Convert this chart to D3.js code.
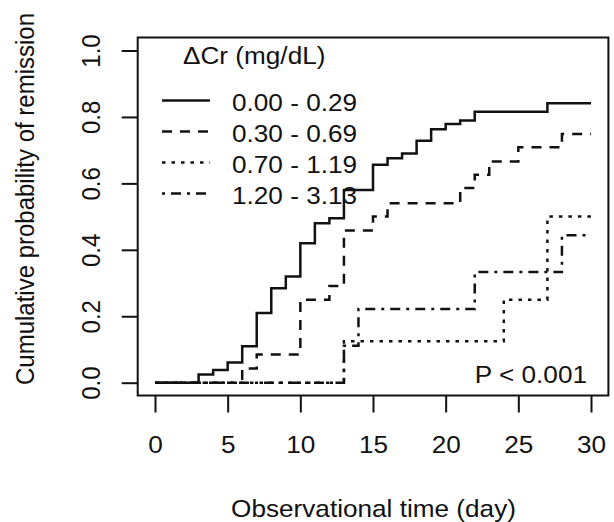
<!DOCTYPE html>
<html>
<head>
<meta charset="utf-8">
<script src="https://cdn.jsdelivr.net/npm/d3@7"></script>
<style>
  body { margin: 0; background: #fff; }
  text { font-family: "Liberation Sans", Arial, sans-serif; font-size: 24px; fill: #111; }
</style>
</head>
<body>
<div id="chart"></div>
<script>
// group labels (delta creatinine)
var groups = ["0.00 - 0.29", "0.30 - 0.69", "0.70 - 1.19", "1.20 - 3.13"];

// step times (day) and cumulative probability for each group
var timeA = [0, 3, 4, 5, 6, 7, 8, 9, 10, 11, 12, 13, 15, 16, 17, 18, 19, 20, 21, 22, 27, 30];
var probA = [0, 0.025, 0.038, 0.061, 0.11, 0.21, 0.284, 0.32, 0.42, 0.48, 0.495, 0.58, 0.656, 0.676, 0.69, 0.728, 0.763, 0.779, 0.789, 0.816, 0.841, 0.841];

var timeB = [0, 6, 7, 10, 12, 13, 15, 16, 21, 22, 23, 25, 28, 30];
var probB = [0, 0.043, 0.085, 0.25, 0.291, 0.458, 0.5, 0.54, 0.586, 0.626, 0.666, 0.709, 0.749, 0.749];

var timeC = [0, 13, 24, 27, 30];
var probC = [0, 0.125, 0.25, 0.5, 0.5];

var timeD = [0, 13, 14, 22, 28, 30];
var probD = [0, 0.111, 0.222, 0.333, 0.444, 0.444];

var xTicks = [0, 5, 10, 15, 20, 25, 30];
var yTicks = [0, 0.2, 0.4, 0.6, 0.8, 1.0];

var w = 614, h = 522;
var sx = 1.09; // the picture is a bit wider than tall

var svg = d3.select("#chart").append("svg")
    .attr("width", w)
    .attr("height", h);

var xScale = d3.scaleLinear().domain([0, 30]).range([155, 591]);
var yScale = d3.scaleLinear().domain([0, 1]).range([382.7, 50.5]);

var dashes = [null, "10,8", "3.5,6", "3,6,10,6"];

// plot box
svg.append("rect")
    .attr("x", 137.7).attr("y", 37.5)
    .attr("width", 470.7).attr("height", 358)
    .attr("fill", "none")
    .attr("stroke", "#111")
    .attr("stroke-width", 2);

// x axis
var xAxis = svg.append("g")
    .attr("transform", "translate(0,395.5)")
    .call(d3.axisBottom(xScale).tickValues(xTicks).tickSize(17).tickSizeOuter(0));
xAxis.select(".domain").remove();
xAxis.selectAll("line").attr("stroke", "#111").attr("stroke-width", 2);
xAxis.selectAll("text")
    .attr("y", null).attr("dy", null)
    .attr("transform", "translate(0,57) scale(" + sx + ",1)")
    .style("font-size", "24px")
    .style("font-family", "'Liberation Sans', Arial, sans-serif")
    .attr("fill", "#111");

// y axis
var yAxis = svg.append("g")
    .attr("transform", "translate(137.7,0)")
    .call(d3.axisLeft(yScale).tickValues(yTicks).tickSize(16).tickSizeOuter(0).tickFormat(d3.format(".1f")));
yAxis.select(".domain").remove();
yAxis.selectAll("line").attr("stroke", "#111").attr("stroke-width", 2);
yAxis.selectAll("text")
    .attr("x", null).attr("dy", null)
    .attr("text-anchor", "middle")
    .attr("transform", "translate(-37.7,0) scale(" + sx + ",1) rotate(-90)")
    .style("font-size", "24px")
    .style("font-family", "'Liberation Sans', Arial, sans-serif")
    .attr("fill", "#111");

function label(x, y, s, anchor, rot) {
    svg.append("text")
        .attr("transform", "translate(" + x + "," + y + ") scale(" + sx + ",1)" + (rot ? " rotate(-90)" : ""))
        .attr("text-anchor", anchor)
        .text(s);
}

label(373.5, 516.7, "Observational time (day)", "middle");
label(34, 199, "Cumulative probability of remission", "middle", true);
label(587, 382.7, "P < 0.001", "end");

// curves
var times = [timeA, timeB, timeC, timeD];
var probs = [probA, probB, probC, probD];

var line = d3.line()
    .x(function(d) { return xScale(d[0]); })
    .y(function(d) { return yScale(d[1]); })
    .curve(d3.curveStepAfter);

for (var i = 3; i >= 0; i--) {
    var pts = times[i].map(function(t, j) { return [t, probs[i][j]]; });
    svg.append("path")
        .attr("d", line(pts))
        .attr("fill", "none")
        .attr("stroke", "#111")
        .attr("stroke-width", 2.5)
        .attr("stroke-dasharray", dashes[i]);
}

// legend
label(183, 64, "\u0394Cr (mg/dL)", "start");
groups.forEach(function(g, i) {
    var base = 110.5 + i * 31;
    svg.append("line")
        .attr("x1", 162).attr("x2", 210)
        .attr("y1", base - 10).attr("y2", base - 10)
        .attr("stroke", "#111")
        .attr("stroke-width", 2.5)
        .attr("stroke-dasharray", dashes[i]);
    label(232, base, g, "start");
});
</script>
</body>
</html>
